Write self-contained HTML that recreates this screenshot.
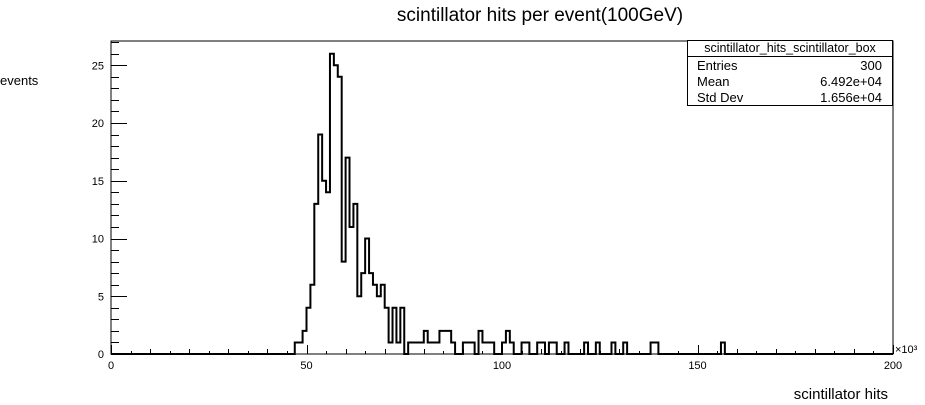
<!DOCTYPE html>
<html><head><meta charset="utf-8"><style>
body{margin:0;background:#fff;}
svg{display:block;font-family:"Liberation Sans",sans-serif;}
</style></head><body>
<svg id="c" width="925" height="405">
<text x="540" y="21" font-size="19" text-anchor="middle">scintillator hits per event(100GeV)</text>
<text x="0" y="85" font-size="13">events</text>
<text x="888" y="399" font-size="15" text-anchor="end">scintillator hits</text>
<text x="895" y="353" font-size="11">×10³</text>
<g id="axes"></g>
<path id="hist" fill="none" stroke="#000" stroke-width="2"></path>
<rect x="111" y="41" width="782" height="313" fill="none" stroke="#000" stroke-width="1"/>
<g>
<rect x="687.5" y="40.5" width="205" height="65" fill="#fff" stroke="#000"/>
<line x1="687.5" y1="56.5" x2="892.5" y2="56.5" stroke="#000"/>
<text x="790" y="52" font-size="12.5" text-anchor="middle">scintillator_hits_scintillator_box</text>
<text x="697" y="70" font-size="13">Entries</text><text x="882" y="70" font-size="13" text-anchor="end">300</text>
<text x="697" y="86" font-size="13">Mean</text><text x="882" y="86" font-size="13" text-anchor="end">6.492e+04</text>
<text x="697" y="102" font-size="13">Std Dev</text><text x="882" y="102" font-size="13" text-anchor="end">1.656e+04</text>
</g>
</svg>
<script>
const nBins = 200;
const xMin = 0, xMax = 200;
const binIdx = [47,48,49,50,51,52,53,54,55,56,57,58,59,60,61,62,63,64,65,66,67,68,69,70,71,72,73,74,75,76,77,78,79,80,81,82,83,84,85,86,87,90,91,92,94,95,96,97,100,101,102,105,106,109,110,112,113,116,121,124,128,131,138,139,156];
const binCounts = [1,1,2,4,6,13,19,15,14,26,25,24,8,17,11,13,5,7,10,7,6,5,6,4,1,4,1,4,0,1,1,1,1,2,1,1,1,2,2,2,1,1,1,1,2,1,1,1,1,2,1,1,1,1,1,1,1,1,1,1,1,1,1,1,1];
const yTicks = [0,5,10,15,20,25];
const xTicks = [0,50,100,150,200];
const L=111,R=893,T=41,B=354,yMax=27.1;
const sx=v=>L+(v-xMin)/(xMax-xMin)*(R-L);
const sy=v=>B-v/yMax*(B-T);
const ns="http://www.w3.org/2000/svg";
const ax=document.getElementById('axes');
function line(x1,y1,x2,y2,name){const l=document.createElementNS(ns,'line');l.setAttribute('x1',x1);l.setAttribute('y1',y1);l.setAttribute('x2',x2);l.setAttribute('y2',y2);l.setAttribute('stroke','#000');


ax.appendChild(l);}
function text(x,y,s,anchor,name){const t=document.createElementNS(ns,'text');t.setAttribute('x',x);t.setAttribute('y',y);t.setAttribute('font-size','11');t.setAttribute('text-anchor',anchor);t.textContent=s;


ax.appendChild(t);}
for(let v=0;v<=27;v++){const y=Math.round(sy(v))+0.5;line(L,y,L+(v%5===0?16:8),y,'y-tick');}
yTicks.forEach(v=>text(104,sy(v)+4,String(v),'end','y-tick-label'));
for(let v=0;v<=200;v+=5){const x=Math.round(sx(v))+0.5;const len=v%50===0?9:(v%10===0?5:3);line(x,B,x,B-len,'x-tick');}
xTicks.forEach(v=>text(sx(v),369,String(v),'middle','x-tick-label'));
const counts=new Array(nBins).fill(0);
binIdx.forEach((b,i)=>counts[b]=binCounts[i]);
const w=(xMax-xMin)/nBins;
let d='M'+sx(xMin)+','+B;
for(let i=0;i<nBins;i++){const x0=sx(xMin+i*w),x1=sx(xMin+(i+1)*w),y=sy(counts[i]);d+=' L'+x0+','+y+' L'+x1+','+y;}
d+=' L'+sx(xMax)+','+B;
document.getElementById('hist').setAttribute('d',d);
</script>
</body></html>
